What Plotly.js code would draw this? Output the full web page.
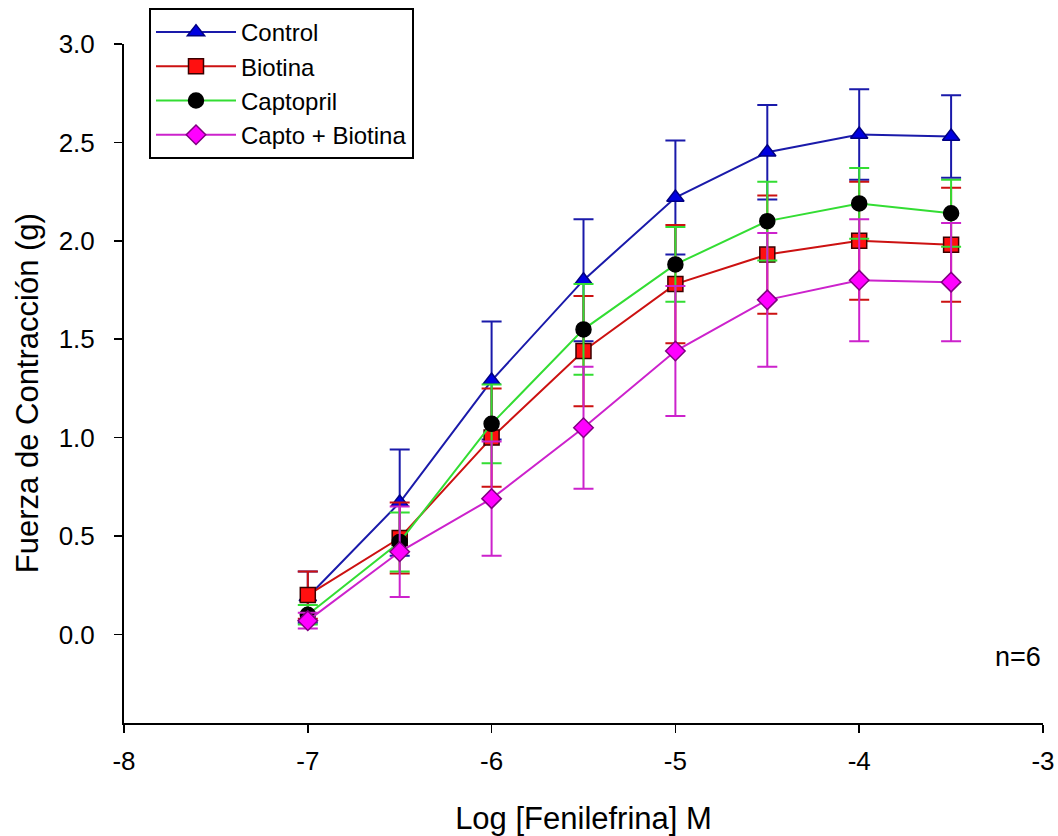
<!DOCTYPE html>
<html>
<head>
<meta charset="utf-8">
<script src="https://cdn.plot.ly/plotly-3.0.1.min.js"></script>
<style>html,body{margin:0;padding:0;background:#fff;}#chart{width:1058px;height:836px;}</style>
</head>
<body>
<div id="chart"></div>
<script>
const logConc = [-7, -6.5, -6, -5.5, -5, -4.5, -4, -3.5];
const seriesNames = ["Control", "Biotina", "Captopril", "Capto + Biotina"];
const controlMean = [0.19, 0.67, 1.29, 1.80, 2.22, 2.45, 2.54, 2.53];
const controlErr  = [0.13, 0.27, 0.30, 0.31, 0.29, 0.24, 0.23, 0.21];
const biotinaMean = [0.20, 0.49, 1.00, 1.44, 1.78, 1.93, 2.00, 1.98];
const biotinaErr  = [0.12, 0.18, 0.25, 0.28, 0.30, 0.30, 0.30, 0.29];
const captoMean   = [0.10, 0.47, 1.07, 1.55, 1.88, 2.10, 2.19, 2.14];
const captoErr    = [0.05, 0.15, 0.20, 0.23, 0.19, 0.20, 0.18, 0.17];
const cbMean      = [0.07, 0.42, 0.69, 1.05, 1.44, 1.70, 1.80, 1.79];
const cbErr       = [0.04, 0.23, 0.29, 0.31, 0.33, 0.34, 0.31, 0.30];
const xTicks = [-8, -7, -6, -5, -4, -3];
const yTicks = [0.0, 0.5, 1.0, 1.5, 2.0, 2.5, 3.0];
const xTitle = 'Log [Fenilefrina] M';
const yTitle = 'Fuerza de Contracción (g)';

function mk(name, y, err, lineColor, symbol, fill, outline) {
  return {
    type: 'scatter', mode: 'lines+markers', name: name,
    x: logConc, y: y,
    line: {color: lineColor, width: 2},
    marker: {symbol: symbol, size: 15, color: fill, line: {color: outline, width: 1.5}},
    error_y: {type: 'data', array: err, visible: true, color: lineColor, thickness: 2, width: 10}
  };
}

const data = [
  mk(seriesNames[0], controlMean, controlErr, '#1a1aaa', 'triangle-up', '#0000e0', '#000080'),
  mk(seriesNames[1], biotinaMean, biotinaErr, '#cc1111', 'square', '#ff1010', '#3a0000'),
  mk(seriesNames[2], captoMean, captoErr, '#33dd33', 'circle', '#000000', '#000000'),
  mk(seriesNames[3], cbMean, cbErr, '#cc22cc', 'diamond', '#ff00ff', '#800080')
];

const layout = {
  width: 1058, height: 836,
  margin: {l: 124, r: 15, t: 44, b: 113, autoexpand: false},
  paper_bgcolor: '#fff', plot_bgcolor: '#fff',
  font: {family: 'Liberation Sans, Arial, sans-serif', color: '#000', size: 24},
  showlegend: true,
  legend: {
    x: 0.0272, y: 1.053, xanchor: 'left', yanchor: 'top',
    bgcolor: '#fff', bordercolor: '#000', borderwidth: 2,
    itemwidth: 80,
    font: {size: 24, color: '#000'}
  },
  xaxis: {
    range: [-8, -3], tickvals: xTicks, ticktext: xTicks.map(String),
    showgrid: false, zeroline: false, showline: true, linecolor: '#000', linewidth: 2,
    ticks: 'outside', ticklen: 8, tickwidth: 1.5, tickcolor: '#000',
    tickfont: {size: 26}, ticklabelstandoff: 6, automargin: false,
    title: {text: xTitle, font: {size: 31}, standoff: 32}
  },
  yaxis: {
    range: [-0.45, 3.0], tickvals: yTicks, ticktext: yTicks.map(v => v.toFixed(1)),
    showgrid: false, zeroline: false, showline: true, linecolor: '#000', linewidth: 2,
    ticks: 'outside', ticklen: 8, tickwidth: 1.5, tickcolor: '#000',
    tickfont: {size: 26}, ticklabelstandoff: 14, automargin: false
  },
  annotations: [
    {
      text: yTitle, xref: 'paper', yref: 'paper', x: -0.105, y: 0.485,
      xanchor: 'center', yanchor: 'middle', textangle: -90, showarrow: false,
      font: {size: 31}
    },
    {
      text: 'n=6', xref: 'paper', yref: 'paper', x: 1.0, y: 0.097,
      xanchor: 'right', yanchor: 'middle', showarrow: false, font: {size: 27}
    }
  ]
};

Plotly.newPlot('chart', data, layout, {displayModeBar: false, staticPlot: true});
</script>
</body>
</html>
